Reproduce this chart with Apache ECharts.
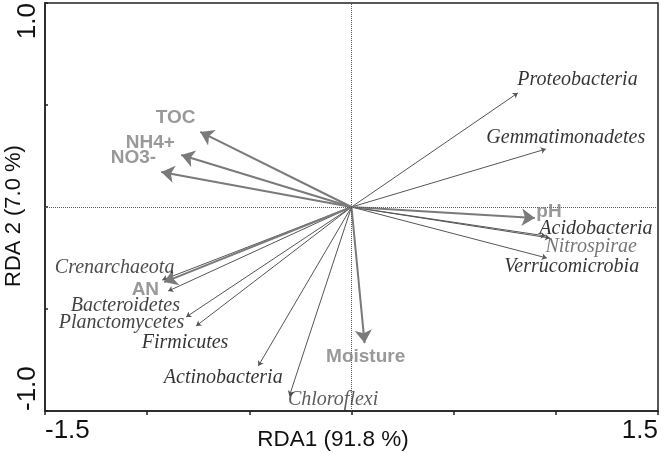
<!DOCTYPE html>
<html>
<head>
<meta charset="utf-8">
<script src="https://cdn.jsdelivr.net/npm/echarts@6/dist/echarts.min.js"></script>
<style>
  html, body { margin: 0; padding: 0; background: #fff; }
  #chart { width: 661px; height: 453px; }
</style>
</head>
<body>
<div id="chart"></div>
<script>
// environmental variables (RDA1, RDA2 scores)
const envNames = ["TOC", "NH4+", "NO3-", "pH", "AN", "Moisture"];
const envRDA1 = [-0.74, -0.833, -0.931, 0.897, -0.917, 0.064];
const envRDA2 = [0.368, 0.255, 0.172, -0.054, -0.368, -0.667];

// bacterial phyla
const taxaNames = [
  "Proteobacteria", "Gemmatimonadetes", "Acidobacteria", "Nitrospirae",
  "Verrucomicrobia", "Crenarchaeota", "Bacteroidetes", "Planctomycetes",
  "Firmicutes", "Actinobacteria", "Chloroflexi",
];
const taxaRDA1 = [0.814, 0.951, 0.951, 0.971, 0.956, -0.926, -0.897, -0.809, -0.76, -0.456, -0.304];
const taxaRDA2 = [0.559, 0.284, -0.142, -0.152, -0.25, -0.358, -0.412, -0.539, -0.583, -0.779, -0.926];

// only the end ticks carry labels
const xTickLabels = [-1.5, 1.5];
const yTickLabels = [-1.0, 1.0];

// label placement (pixel offset from arrow tip, left edge / vertical middle)
const envLabelOffset = [[-44, -14], [-55, -12], [-50, -14], [2, -6], [-32, 8], [-38, 14]];
const taxaLabelOffset = [
  [0, -13], [-59, -11], [-6, -7], [-4, 9], [-42, 9], [-107, -12],
  [-97, 15], [-127, 6], [-54, 17], [-94, 12], [-1, 4],
];
const taxaLabelColor = ["#000", "#000", "#000", "#555", "#000", "#222", "#111", "#111", "#000", "#000", "#333"];

const chart = echarts.init(document.getElementById("chart"));

const envArrows = envNames.map((n, i) => ({ coords: [[0, 0], [envRDA1[i], envRDA2[i]]] }));
const taxaArrows = taxaNames.map((n, i) => ({ coords: [[0, 0], [taxaRDA1[i], taxaRDA2[i]]] }));

const envLabels = envNames.map((n, i) => ({
  name: n,
  value: [envRDA1[i], envRDA2[i]],
  label: { position: envLabelOffset[i] },
}));
const taxaLabels = taxaNames.map((n, i) => ({
  name: n,
  value: [taxaRDA1[i], taxaRDA2[i]],
  label: { position: taxaLabelOffset[i], color: taxaLabelColor[i] },
}));

const option = {
  animation: false,
  grid: {
    left: 45,
    top: 3,
    right: 3,
    bottom: 42,
    show: true,
    borderColor: "#222",
    borderWidth: 1.5,
  },
  xAxis: {
    type: "value",
    min: -1.5,
    max: 1.5,
    interval: 0.5,
    splitLine: { show: false },
    axisLine: { onZero: false, lineStyle: { color: "#222", width: 1.5 } },
    axisTick: { length: 4, lineStyle: { color: "#222", width: 1.5 } },
    axisLabel: {
      margin: 7,
      fontFamily: "Liberation Sans, Arial, sans-serif",
      fontSize: 26,
      color: "#111",
      alignMinLabel: "left",
      alignMaxLabel: "right",
      formatter: (v) => (xTickLabels.includes(v) ? v.toFixed(1) : ""),
    },
  },
  yAxis: {
    type: "value",
    min: -1,
    max: 1,
    interval: 0.5,
    splitLine: { show: false },
    axisLine: { onZero: false, lineStyle: { color: "#222", width: 1.5 } },
    axisTick: { inside: true, length: 3, lineStyle: { color: "#222", width: 1.5 } },
    axisLabel: {
      rotate: 90,
      margin: 4,
      fontFamily: "Liberation Sans, Arial, sans-serif",
      fontSize: 26,
      color: "#111",
      alignMinLabel: "left",
      alignMaxLabel: "right",
      formatter: (v) => (yTickLabels.includes(v) ? v.toFixed(1) : ""),
    },
  },
  graphic: [
    {
      type: "text",
      x: 333,
      y: 440,
      style: {
        text: "RDA1 (91.8 %)",
        font: "22.5px Liberation Sans, Arial, sans-serif",
        fill: "#111",
        align: "center",
        verticalAlign: "middle",
      },
    },
    {
      type: "text",
      x: 14,
      y: 216,
      rotation: Math.PI / 2,
      style: {
        text: "RDA 2 (7.0 %)",
        font: "22px Liberation Sans, Arial, sans-serif",
        fill: "#111",
        align: "center",
        verticalAlign: "middle",
      },
    },
  ],
  series: [
    {
      name: "taxa arrows",
      type: "lines",
      coordinateSystem: "cartesian2d",
      symbol: ["none", "arrow"],
      symbolSize: 5,
      lineStyle: { color: "#555", width: 1, opacity: 1 },
      data: taxaArrows,
      silent: true,
      z: 3,
    },
    {
      name: "env arrows",
      type: "lines",
      coordinateSystem: "cartesian2d",
      symbol: ["none", "arrow"],
      symbolSize: [9, 13],
      lineStyle: { color: "#7a7a7a", width: 2, opacity: 1 },
      data: envArrows,
      silent: true,
      z: 4,
    },
    {
      name: "taxa labels",
      type: "scatter",
      symbolSize: 1,
      itemStyle: { color: "transparent" },
      label: {
        show: true,
        formatter: "{b}",
        align: "left",
        verticalAlign: "middle",
        fontFamily: "Liberation Serif, Times New Roman, serif",
        fontStyle: "italic",
        fontSize: 20,
      },
      data: taxaLabels,
      silent: true,
      z: 5,
      markLine: {
        silent: true,
        symbol: "none",
        label: { show: false },
        lineStyle: { color: "#555", type: "dotted", width: 1 },
        data: [{ xAxis: 0 }, { yAxis: 0 }],
      },
    },
    {
      name: "env labels",
      type: "scatter",
      symbolSize: 1,
      itemStyle: { color: "transparent" },
      label: {
        show: true,
        formatter: "{b}",
        align: "left",
        verticalAlign: "middle",
        fontFamily: "Liberation Sans, Arial, sans-serif",
        fontWeight: "bold",
        fontSize: 19,
        color: "#808080",
      },
      data: envLabels,
      silent: true,
      z: 6,
    },
  ],
};

chart.setOption(option);
</script>
</body>
</html>
